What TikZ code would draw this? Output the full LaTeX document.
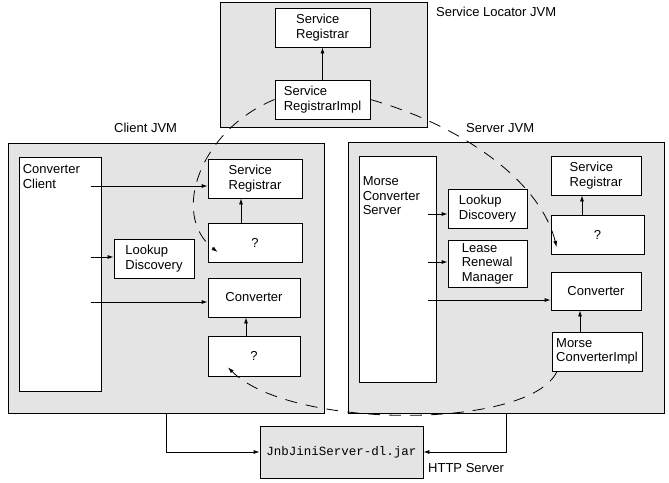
\documentclass[tikz,border=0pt]{standalone}
\usepackage{fontspec}
\setmainfont{Liberation Sans}
\newfontfamily\jarfont{Liberation Mono}
\usetikzlibrary{arrows.meta, positioning}
\definecolor{jvmgray}{HTML}{E4E4E4}

\begin{document}
\begin{tikzpicture}[
    x=1pt, y=-1pt,
    font=\fontsize{13}{14.5}\selectfont,
    box/.style 2 args={minimum width=#1pt, minimum height=#2pt},
    jvm/.style={draw, line width=0.8pt, fill=jvmgray, inner sep=0pt},
    comp/.style={draw, line width=0.8pt, fill=white, align=left, inner sep=0pt},
    lbl/.style={inner sep=0pt, align=left},
    line/.style={-{Latex[length=6pt,width=4pt]}, line width=0.8pt},
    remote/.style={line, dash pattern=on 12pt off 9pt}
  ]
  \useasboundingbox (0,0) rectangle (669,482);

  % ===================== Service Locator JVM =====================
  \node[jvm, box={207}{125}] (locator) at (323.5,64.5) {};
  \node[comp, box={95}{39}] (locsr) at (322.5,27.5) {Service\\Registrar};
  \node[comp, box={95}{39}] (locimpl) at (322.5,99.5) {Service\\RegistrarImpl};
  \node[lbl, anchor=west] (loclbl) at (436,12) {Service Locator JVM};

  % ===================== Client JVM =====================
  \node[jvm, box={316}{270}] (client) at (166,278) {};
  \node[lbl, anchor=west] (clientlbl) at (114,128) {Client JVM};
  \node[comp, box={82}{234},
    label={[lbl, anchor=north west, xshift=4pt, yshift=-8pt]north west:{Converter\\Client}}] (cclient) at (60,274) {};
  \node[comp, box={94}{39}] (csr) at (255,178.5) {Service\\Registrar};
  \node[comp, box={94}{39}] (cproxy) at (255,242.5) {?};
  \node[comp, box={80}{39}] (clookup) at (154,258.5) {Lookup\\Discovery};
  \node[comp, box={92}{39}] (cconv) at (254,297.5) {Converter};
  \node[comp, box={92}{40}] (cproxyb) at (254,356) {?};

  % ===================== Server JVM =====================
  \node[jvm, box={316}{271}] (server) at (506,277.5) {};
  \node[lbl, anchor=west] (serverlbl) at (466,128) {Server JVM};
  \node[comp, box={77}{226},
    label={[lbl, anchor=north west, xshift=4pt, yshift=-21pt]north west:{Morse\\Converter\\Server}}] (mserver) at (397.5,269) {};
  \node[comp, box={79}{39}] (slookup) at (487.5,208.5) {Lookup\\Discovery};
  \node[comp, box={79}{47}] (slease) at (487.5,263.5) {Lease\\Renewal\\Manager};
  \node[comp, box={90}{39}] (ssr) at (596,175.5) {Service\\Registrar};
  \node[comp, box={93}{39}] (sproxy) at (597.5,234.5) {?};
  \node[comp, box={90}{38}] (sconv) at (596,291) {Converter};
  \node[comp, box={90}{39}] (simpl) at (597,351.5) {Morse\\ConverterImpl};

  % ===================== HTTP Server =====================
  \node[jvm, box={163}{52}, font=\jarfont\fontsize{12.5}{14}\selectfont] (jar) at (341.5,452) {JnbJiniServer-dl.jar};
  \node[lbl, anchor=west] (httplbl) at (428,468) {HTTP Server};

  % ===================== local references =====================
  \draw[line] (locimpl.north) -- (locsr.south);
  \draw[line] ([xshift=-10pt,yshift=-7.5pt]cclient.east |- csr.west) -- ([yshift=-7.5pt]csr.west);
  \draw[line] ([xshift=-10pt,yshift=1.5pt]cclient.east |- clookup.west) -- ([yshift=1.5pt]clookup.west);
  \draw[line] ([xshift=-10pt,yshift=-4.5pt]cclient.east |- cconv.west) -- ([yshift=-4.5pt]cconv.west);
  \draw[line] ([xshift=-14pt]cproxy.north) -- ([xshift=-14pt]cproxy.north |- csr.south);
  \draw[line] ([xshift=-8pt]cproxyb.north) -- ([xshift=-8pt]cproxyb.north |- cconv.south);

  \draw[line] ([xshift=-8pt,yshift=-5.5pt]mserver.east |- slookup.west) -- ([yshift=-5.5pt]slookup.west);
  \draw[line] ([xshift=-8pt,yshift=1.5pt]mserver.east |- slease.west) -- ([yshift=1.5pt]slease.west);
  \draw[line] ([xshift=-8pt,yshift=-9pt]mserver.east |- sconv.west) -- ([yshift=-9pt]sconv.west);
  \draw[line] ([xshift=-15.5pt]sproxy.north) -- ([xshift=-15.5pt]sproxy.north |- ssr.south);
  \draw[line] ([xshift=-17pt]simpl.north) -- ([xshift=-17pt]simpl.north |- sconv.south);

  % ===================== class download =====================
  \draw[line] (client.south) |- (jar.west);
  \draw[line] (server.south) |- (jar.east);

  % ===================== remote proxies =====================
  \draw[remote] (locimpl.west) .. controls (200,130) and (170,215) .. ([shift={(10pt,-9.5pt)}]cproxy.west);
  \draw[remote] (locimpl.east) .. controls (460,125) and (540,180) .. ([shift={(6pt,-12.5pt)}]sproxy.west);
  \draw[remote] ([xshift=-40pt]simpl.south) .. controls (530,430) and (290,430) .. ([shift={(-26pt,9pt)}]cproxyb.south);

\end{tikzpicture}
\end{document}
